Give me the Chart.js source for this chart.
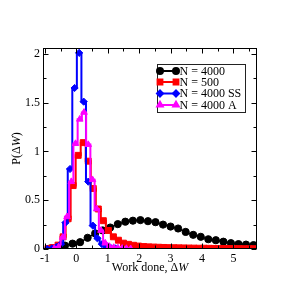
<!DOCTYPE html>
<html><head><meta charset="utf-8">
<script src="https://cdn.jsdelivr.net/npm/chart.js@4/dist/chart.umd.min.js"></script>
<style>html,body{margin:0;padding:0;background:#fff;}#wrap{width:286px;height:293px;position:relative;}</style>
</head><body><div id="wrap"><canvas id="c" width="286" height="293"></canvas></div>
<script>
// ---- data ----
const seriesLabels = ['N = 4000', 'N = 500', 'N = 4000 SS', 'N = 4000 A'];
const xTickValues = [-1, 0, 1, 2, 3, 4, 5];
const yTickValues = [0, 0.5, 1, 1.5, 2];

const n4000X = [-0.84,-0.6,-0.36,-0.12,0.12,0.36,0.6,0.84,1.08,1.32,1.56,1.8,2.04,2.28,2.52,2.76,3.0,3.24,3.48,3.72,3.96,4.2,4.44,4.68,4.92,5.16,5.4,5.64];
const n4000Y = [0.005,0.015,0.035,0.055,0.07,0.115,0.16,0.19,0.22,0.255,0.28,0.29,0.296,0.285,0.275,0.25,0.23,0.21,0.175,0.145,0.125,0.1,0.09,0.075,0.06,0.05,0.045,0.04];

const n500X = [-0.9,-0.74,-0.58,-0.42,-0.26,-0.1,0.06,0.22,0.38,0.54,0.70,0.86,1.02,1.18,1.34,1.50,1.66,1.82,1.98,2.14,2.30,2.46,2.62,2.78,2.94,3.10,3.26,3.42,3.58,3.74,3.90,4.06,4.22,4.38,4.54,4.70,4.86,5.02,5.18,5.34,5.50,5.66];
const n500Y = [0.005,0.015,0.04,0.125,0.31,0.65,0.96,1.09,0.90,0.62,0.41,0.29,0.19,0.125,0.09,0.06,0.048,0.038,0.03,0.025,0.022,0.02,0.018,0.016,0.014,0.013,0.012,0.011,0.01,0.009,0.008,0.008,0.007,0.006,0.006,0.005,0.005,0.004,0.004,0.003,0.003,0.003];

const ssX = [-0.925,-0.78,-0.635,-0.49,-0.345,-0.2,-0.055,0.09,0.235,0.38,0.525,0.67,0.815,0.96,1.105,1.25];
const ssY = [0,0.005,0.02,0.05,0.27,0.82,1.65,2.01,1.51,0.69,0.24,0.11,0.05,0.02,0.01,0.005];

const aX = [-0.7,-0.565,-0.43,-0.295,-0.16,-0.025,0.11,0.245,0.38,0.515,0.65,0.785,0.92,1.055,1.19,1.325,1.46,1.595,1.73];
const aY = [0.005,0.02,0.12,0.33,0.69,1.08,1.33,1.40,1.07,0.71,0.41,0.19,0.06,0.025,0.015,0.01,0.006,0.004,0.002];

const pts = (xs, ys) => xs.map((x, i) => ({x, y: ys[i]}));
const SERIF = '"Liberation Serif", "Times New Roman", serif';

const styles = [
  {color:'#000000', pointStyle:'circle', radius:3.6, legR:3.0, width:1.5, stepped:false, order:3},
  {color:'#ff0000', pointStyle:'rect', radius:4.2, legR:3.4, width:2, stepped:'middle', order:2},
  {color:'#0000ff', pointStyle:'rectRot', radius:3.6, legR:3.0, width:2, stepped:'middle', order:1},
  {color:'#ff00ff', pointStyle:'triangle', radius:3.8, legR:3.2, width:2, stepped:'middle', order:0},
];
const dataSets = [pts(n4000X,n4000Y), pts(n500X,n500Y), pts(ssX,ssY), pts(aX,aY)];

const frame = {
  id: 'frame',
  afterDatasetsDraw(chart) {
    const {ctx, chartArea: a, scales: {x, y}} = chart;
    ctx.save();
    ctx.strokeStyle = '#000'; ctx.lineWidth = 1;
    const L = Math.round(a.left) + 0.5, R = Math.round(a.right) - 0.5;
    const T = Math.round(a.top) + 0.5, B = Math.round(a.bottom) - 0.5;
    ctx.strokeRect(L, T, R - L, B - T);
    ctx.beginPath();
    const xt = [];
    xTickValues.forEach(v => { xt.push([v, 5]); if (v + 0.5 <= x.max) xt.push([v + 0.5, 3]); });
    xt.forEach(([v, len]) => {
      const p = Math.round(x.getPixelForValue(v)) + 0.5;
      ctx.moveTo(p, B); ctx.lineTo(p, B - len);
      ctx.moveTo(p, T); ctx.lineTo(p, T + len);
    });
    const yt = [];
    yTickValues.forEach(v => { yt.push([v, 5]); if (v + 0.25 <= y.max) yt.push([v + 0.25, 3]); });
    yt.forEach(([v, len]) => {
      const p = Math.round(y.getPixelForValue(v)) + 0.5;
      ctx.moveTo(L, p); ctx.lineTo(L + len, p);
      ctx.moveTo(R, p); ctx.lineTo(R - len, p);
    });
    ctx.stroke();

    // legend
    const bx = 157, by = 64, bw = 88, bh = 48;
    ctx.fillStyle = '#fff';
    ctx.fillRect(bx, by, bw, bh);
    ctx.strokeStyle = '#222';
    ctx.strokeRect(bx + 0.5, by + 0.5, bw, bh);
    const rows = [71, 82, 93.5, 105];
    ctx.font = '12px ' + SERIF;
    ctx.textBaseline = 'middle';
    ctx.textAlign = 'left';
    seriesLabels.forEach((lab, i) => {
      const s = styles[i], yy = rows[i];
      ctx.strokeStyle = s.color; ctx.lineWidth = 2;
      ctx.beginPath(); ctx.moveTo(160, yy); ctx.lineTo(176, yy); ctx.stroke();
      ctx.fillStyle = s.color;
      [160, 176].forEach(px => Chart.helpers.drawPoint(ctx, {pointStyle: s.pointStyle, radius: s.legR, rotation: 0, borderWidth: 1}, px, yy));
      ctx.fillStyle = '#000';
      ctx.fillText(lab, 179.5, yy + 0.5);
    });
    ctx.restore();
  },
  afterDraw(chart) {
    const {ctx, chartArea: a} = chart;
    ctx.save();
    ctx.fillStyle = '#000';
    ctx.textBaseline = 'middle';
    const normal = '12px ' + SERIF, ital = 'italic 12px ' + SERIF;
    const drawParts = (parts, cx, cy) => {
      let w = 0;
      parts.forEach(p => { ctx.font = p[1]; w += ctx.measureText(p[0]).width; });
      let x0 = cx - w / 2;
      ctx.textAlign = 'left';
      parts.forEach(p => { ctx.font = p[1]; ctx.fillText(p[0], x0, cy); x0 += ctx.measureText(p[0]).width; });
    };
    drawParts([['Work done, \u0394', normal], ['W', ital]], (a.left + a.right) / 2, 268);
    ctx.translate(17, (a.top + a.bottom) / 2);
    ctx.rotate(-Math.PI / 2);
    drawParts([['P(\u0394', normal], ['W', ital], [')', normal]], 0, 0);
    ctx.restore();
  }
};

new Chart(document.getElementById('c'), {
  type: 'line',
  data: {
    datasets: dataSets.map((d, i) => ({
      label: seriesLabels[i],
      data: d,
      borderColor: styles[i].color,
      backgroundColor: styles[i].color,
      pointBackgroundColor: styles[i].color,
      pointBorderColor: styles[i].color,
      pointStyle: styles[i].pointStyle,
      pointRadius: styles[i].radius,
      pointBorderWidth: 1,
      borderWidth: styles[i].width,
      stepped: styles[i].stepped,
      tension: 0,
      fill: false,
      order: styles[i].order,
      clip: 0,
    }))
  },
  options: {
    responsive: false,
    animation: false,
    devicePixelRatio: 1,
    layout: {padding: {left: 0, top: 48, right: 29, bottom: 0}},
    plugins: {legend: {display: false}, tooltip: {enabled: false}},
    scales: {
      x: {
        type: 'linear', min: -1.06, max: 5.75,
        afterBuildTicks: s => { s.ticks = xTickValues.map(v => ({value: v})); },
        afterFit: s => { s.height = 44; },
        grid: {display: false, drawTicks: false},
        border: {display: false},
        ticks: {color: '#000', font: {family: SERIF, size: 12}, padding: 3, maxRotation: 0, autoSkip: false,
                callback: v => String(v)}
      },
      y: {
        type: 'linear', min: 0, max: 2.06,
        afterBuildTicks: s => { s.ticks = yTickValues.map(v => ({value: v})); },
        afterFit: s => { s.width = 43; },
        grid: {display: false, drawTicks: false},
        border: {display: false},
        ticks: {color: '#000', font: {family: SERIF, size: 12}, padding: 3, autoSkip: false,
                callback: v => String(v)}
      }
    }
  },
  plugins: [frame]
});
</script>
</body></html>
